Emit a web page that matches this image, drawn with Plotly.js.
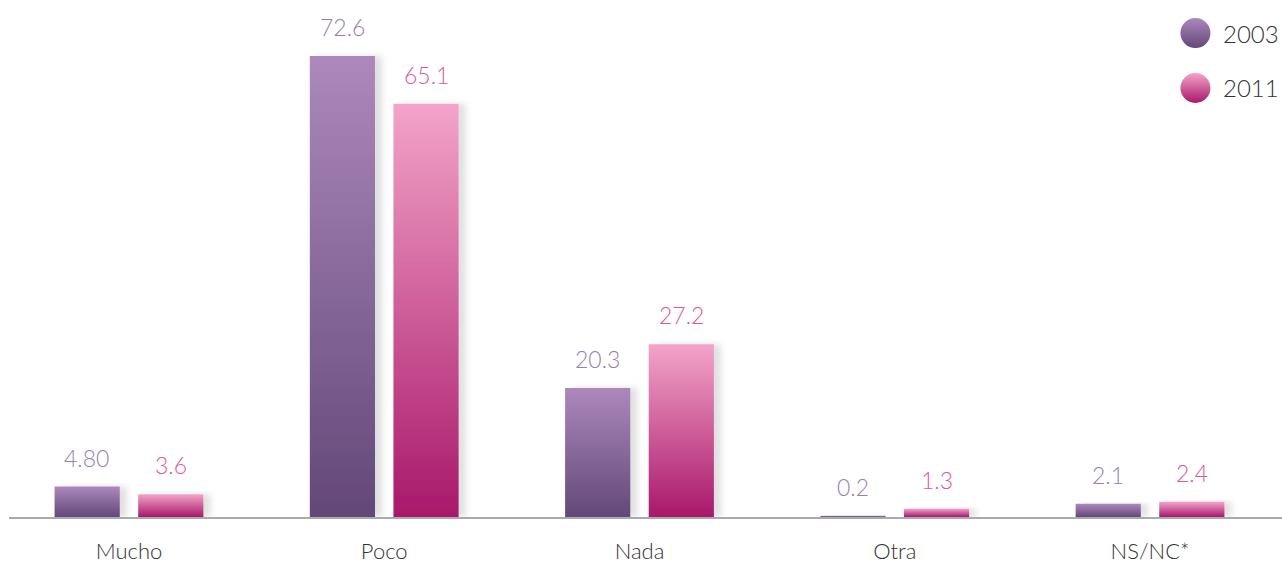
<!DOCTYPE html>
<html>
<head>
<meta charset="utf-8">
<script src="https://cdn.plot.ly/plotly-3.0.1.min.js"></script>
<style>
html,body{margin:0;padding:0;background:#fff;}
#chart{width:1282px;height:567px;}
</style>
</head>
<body>
<div id="chart"></div>
<script>
var categories = ["Mucho", "Poco", "Nada", "Otra", "NS/NC*"];
var series2003 = [4.8, 72.6, 20.3, 0.2, 2.1];
var series2011 = [3.6, 65.1, 27.2, 1.3, 2.4];
var labels2003 = ["4.80", "72.6", "20.3", "0.2", "2.1"];
var labels2011 = ["3.6", "65.1", "27.2", "1.3", "2.4"];
var seriesNames = ["2003", "2011"];

var C2003 = {top: "#ac88bd", bottom: "#634878", text: "#9a7db3", mid: "#86689c"};
var C2011 = {top: "#f3a4c9", bottom: "#a8186a", text: "#dc5a9c", mid: "#d05b93"};
var FONT = "Lato, 'Open Sans', sans-serif";

var traces = [
  {type: "bar", x: categories, y: series2003, name: seriesNames[0], showlegend: false,
   marker: {color: C2003.mid, line: {width: 0}}, hoverinfo: "skip"},
  {type: "bar", x: categories, y: series2011, name: seriesNames[1], showlegend: false,
   marker: {color: C2011.mid, line: {width: 0}}, hoverinfo: "skip"},
  // custom legend markers
  {type: "scatter", mode: "markers", xaxis: "x2", yaxis: "y2",
   x: [0.5, 0.5], y: [0.869, 0.316],
   marker: {size: 30, color: [C2003.top, C2011.top],
            gradient: {type: "vertical", color: [C2003.bottom, C2011.bottom]}, line: {width: 0}},
   showlegend: false, hoverinfo: "skip", cliponaxis: false}
];

var annotations = [];
for (var i = 0; i < categories.length; i++) {
  annotations.push({x: categories[i], y: series2003[i], xref: "x", yref: "y", text: labels2003[i],
    showarrow: false, yanchor: "bottom", xshift: -42, yshift: 13,
    font: {family: FONT, size: 23, color: C2003.text, weight: 300}});
  annotations.push({x: categories[i], y: series2011[i], xref: "x", yref: "y", text: labels2011[i],
    showarrow: false, yanchor: "bottom", xshift: 42, yshift: 13,
    font: {family: FONT, size: 23, color: C2011.text, weight: 300}});
}
[0.869, 0.316].forEach(function(yy, k) {
  annotations.push({x: 0.5, y: yy, xref: "x2", yref: "y2", text: seriesNames[k], showarrow: false,
    xanchor: "left", yanchor: "middle", xshift: 26,
    font: {family: FONT, size: 24, color: "#333333", weight: 300}});
});

var layout = {
  width: 1282, height: 567,
  margin: {l: 9, r: 0, t: 20, b: 50},
  paper_bgcolor: "#ffffff", plot_bgcolor: "#ffffff",
  barmode: "group", bargap: 0.345, bargroupgap: 0.22,
  showlegend: false,
  xaxis: {type: "category", range: [-0.47, 4.517], showgrid: false, zeroline: false, showline: true,
          linecolor: "#a8aab0", linewidth: 2, ticks: "", ticklabelstandoff: 14,
          tickfont: {family: FONT, size: 22, color: "#333333", weight: 300}, fixedrange: true},
  yaxis: {range: [0, 78.27], visible: false, showgrid: false, zeroline: false, fixedrange: true},
  xaxis2: {domain: [0.922, 0.942], range: [0, 1], visible: false, anchor: "y2", fixedrange: true},
  yaxis2: {domain: [0.8, 1.0], range: [0, 1], visible: false, anchor: "x2", fixedrange: true},
  annotations: annotations
};

Plotly.newPlot("chart", traces, layout, {displayModeBar: false, staticPlot: true}).then(function(gd) {
  var svg = gd.querySelector(".main-svg");
  var defs = svg.querySelector("defs");
  var ns = "http://www.w3.org/2000/svg";
  function addGrad(id, top, bottom) {
    var g = document.createElementNS(ns, "linearGradient");
    g.setAttribute("id", id);
    g.setAttribute("x1", "0"); g.setAttribute("y1", "0");
    g.setAttribute("x2", "0"); g.setAttribute("y2", "1");
    var s1 = document.createElementNS(ns, "stop");
    s1.setAttribute("offset", "0"); s1.setAttribute("stop-color", top);
    var s2 = document.createElementNS(ns, "stop");
    s2.setAttribute("offset", "1"); s2.setAttribute("stop-color", bottom);
    g.appendChild(s1); g.appendChild(s2);
    defs.appendChild(g);
  }
  addGrad("barGrad2003", C2003.top, C2003.bottom);
  addGrad("barGrad2011", C2011.top, C2011.bottom);
  // soft shadow to the right of the bars
  var f = document.createElementNS(ns, "filter");
  f.setAttribute("id", "barShadow");
  f.setAttribute("x", "-10%"); f.setAttribute("y", "-10%");
  f.setAttribute("width", "150%"); f.setAttribute("height", "120%");
  var ds = document.createElementNS(ns, "feDropShadow");
  ds.setAttribute("dx", "7"); ds.setAttribute("dy", "0");
  ds.setAttribute("stdDeviation", "3");
  ds.setAttribute("flood-color", "#000000"); ds.setAttribute("flood-opacity", "0.12");
  f.appendChild(ds);
  defs.appendChild(f);
  var barTraces = gd.querySelectorAll(".barlayer .trace");
  var ids = ["barGrad2003", "barGrad2011"];
  barTraces.forEach(function(t, k) {
    t.querySelectorAll("path").forEach(function(p) {
      p.style.fill = "url(#" + ids[k] + ")";
      p.setAttribute("filter", "url(#barShadow)");
    });
  });
});
</script>
</body>
</html>
